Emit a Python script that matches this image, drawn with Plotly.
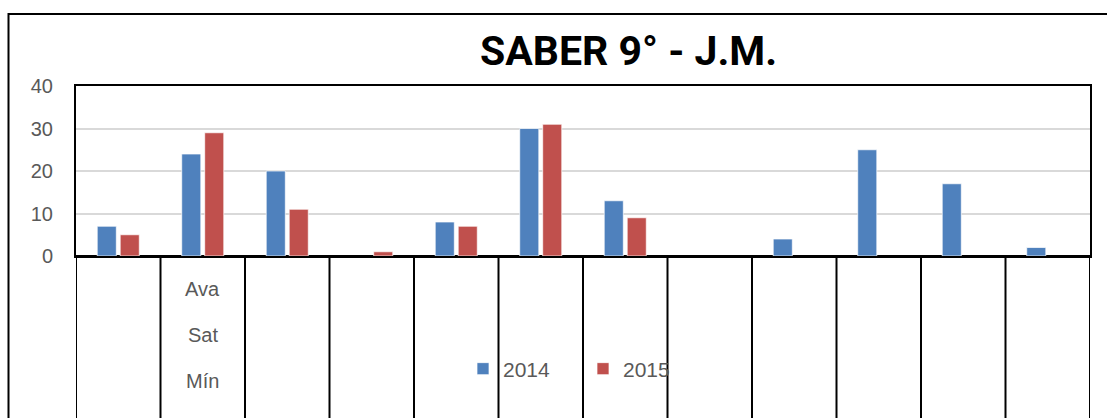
import plotly.graph_objects as go

# ---- data ----
x_pos = list(range(12))
category_labels = ["", "Ava Sat Mín", "", "", "", "", "", "", "", "", "", ""]
values_2014 = [7, 24, 20, None, 8, 30, 13, None, 4, 25, 17, 2]
values_2015 = [5, 29, 11, 1, 7, 31, 9, None, None, None, None, None]
series_names = ["2014", "2015"]
y_ticks = [0, 10, 20, 30, 40]
title_text = "SABER 9° - J.M."

BLUE = "#4F81BD"
RED = "#C0504D"
GRAY_TXT = "#595959"
FONT = "Liberation Sans"

W, H = 1107, 418
L, R, T, B = 76, 17, 86, 162
PW = W - L - R
PH = H - T - B


def px_x(px):
    return (px - L) / PW


def px_y(py):
    return (H - B - py) / PH


fig = go.Figure()
fig.add_trace(go.Bar(
    x=x_pos, y=values_2014, name=series_names[0],
    marker=dict(color=BLUE, line=dict(color="rgba(255,255,255,0.7)", width=1)),
))
fig.add_trace(go.Bar(
    x=x_pos, y=values_2015, name=series_names[1],
    marker=dict(color=RED, line=dict(color="rgba(255,255,255,0.7)", width=1)),
))

shapes = []
# category divider lines below the axis
for k in range(len(x_pos) + 1):
    shapes.append(dict(type="line", xref="x", yref="paper",
                       x0=k - 0.5, x1=k - 0.5, y0=0, y1=-1.05,
                       line=dict(color="black", width=2), layer="below"))
# outer chart border (left + top visible)
shapes.append(dict(type="rect", xref="paper", yref="paper",
                   x0=px_x(8.5), x1=px_x(1130), y0=px_y(14), y1=px_y(440),
                   line=dict(color="black", width=2), fillcolor="rgba(0,0,0,0)",
                   layer="below"))

annotations = [dict(
    text=f"<b>{title_text}</b>", xref="paper", yref="paper",
    x=px_x(628.5), y=px_y(51), xanchor="center", yanchor="middle",
    showarrow=False, font=dict(family="Roboto", size=41, color="black"),
)]
label_y_px = [289, 335, 381]
for xi, lab in zip(x_pos, category_labels):
    if not lab:
        continue
    for line, ypx in zip(lab.split(" "), label_y_px):
        annotations.append(dict(
            text=line, xref="x", yref="paper", x=xi, y=px_y(ypx),
            xanchor="center", yanchor="middle", showarrow=False,
            font=dict(family=FONT, size=20, color=GRAY_TXT),
        ))

fig.update_layout(
    width=W, height=H,
    margin=dict(l=L, r=R, t=T, b=B, autoexpand=False),
    paper_bgcolor="white", plot_bgcolor="white",
    barmode="group", bargap=0.456, bargroupgap=0.17,
    showlegend=True,
    legend=dict(orientation="h", x=px_x(463), y=px_y(369),
                xanchor="left", yanchor="middle",
                font=dict(family=FONT, size=21, color=GRAY_TXT),
                bgcolor="rgba(0,0,0,0)", entrywidth=75, entrywidthmode="pixels",
                itemwidth=30, traceorder="normal"),
    shapes=shapes,
    annotations=annotations,
    font=dict(family=FONT, color=GRAY_TXT),
)
fig.update_xaxes(
    range=[-0.5, 11.5], tickvals=x_pos, ticktext=[""] * len(x_pos),
    showgrid=False, showline=True, linecolor="black", linewidth=2, mirror=True,
    ticks="", zeroline=False,
)
fig.update_yaxes(
    range=[0, 40], tickvals=y_ticks, ticktext=[str(v) for v in y_ticks],
    showgrid=True, gridcolor="#D9D9D9", gridwidth=2,
    showline=True, linecolor="black", linewidth=2, mirror=True,
    zeroline=True, zerolinecolor="black", zerolinewidth=3,
    ticks="", ticklabelstandoff=17,
    tickfont=dict(family=FONT, size=20, color=GRAY_TXT),
)

fig.write_html("out.html", config={"displayModeBar": False},
               post_script="document.body.style.margin='0px';")
